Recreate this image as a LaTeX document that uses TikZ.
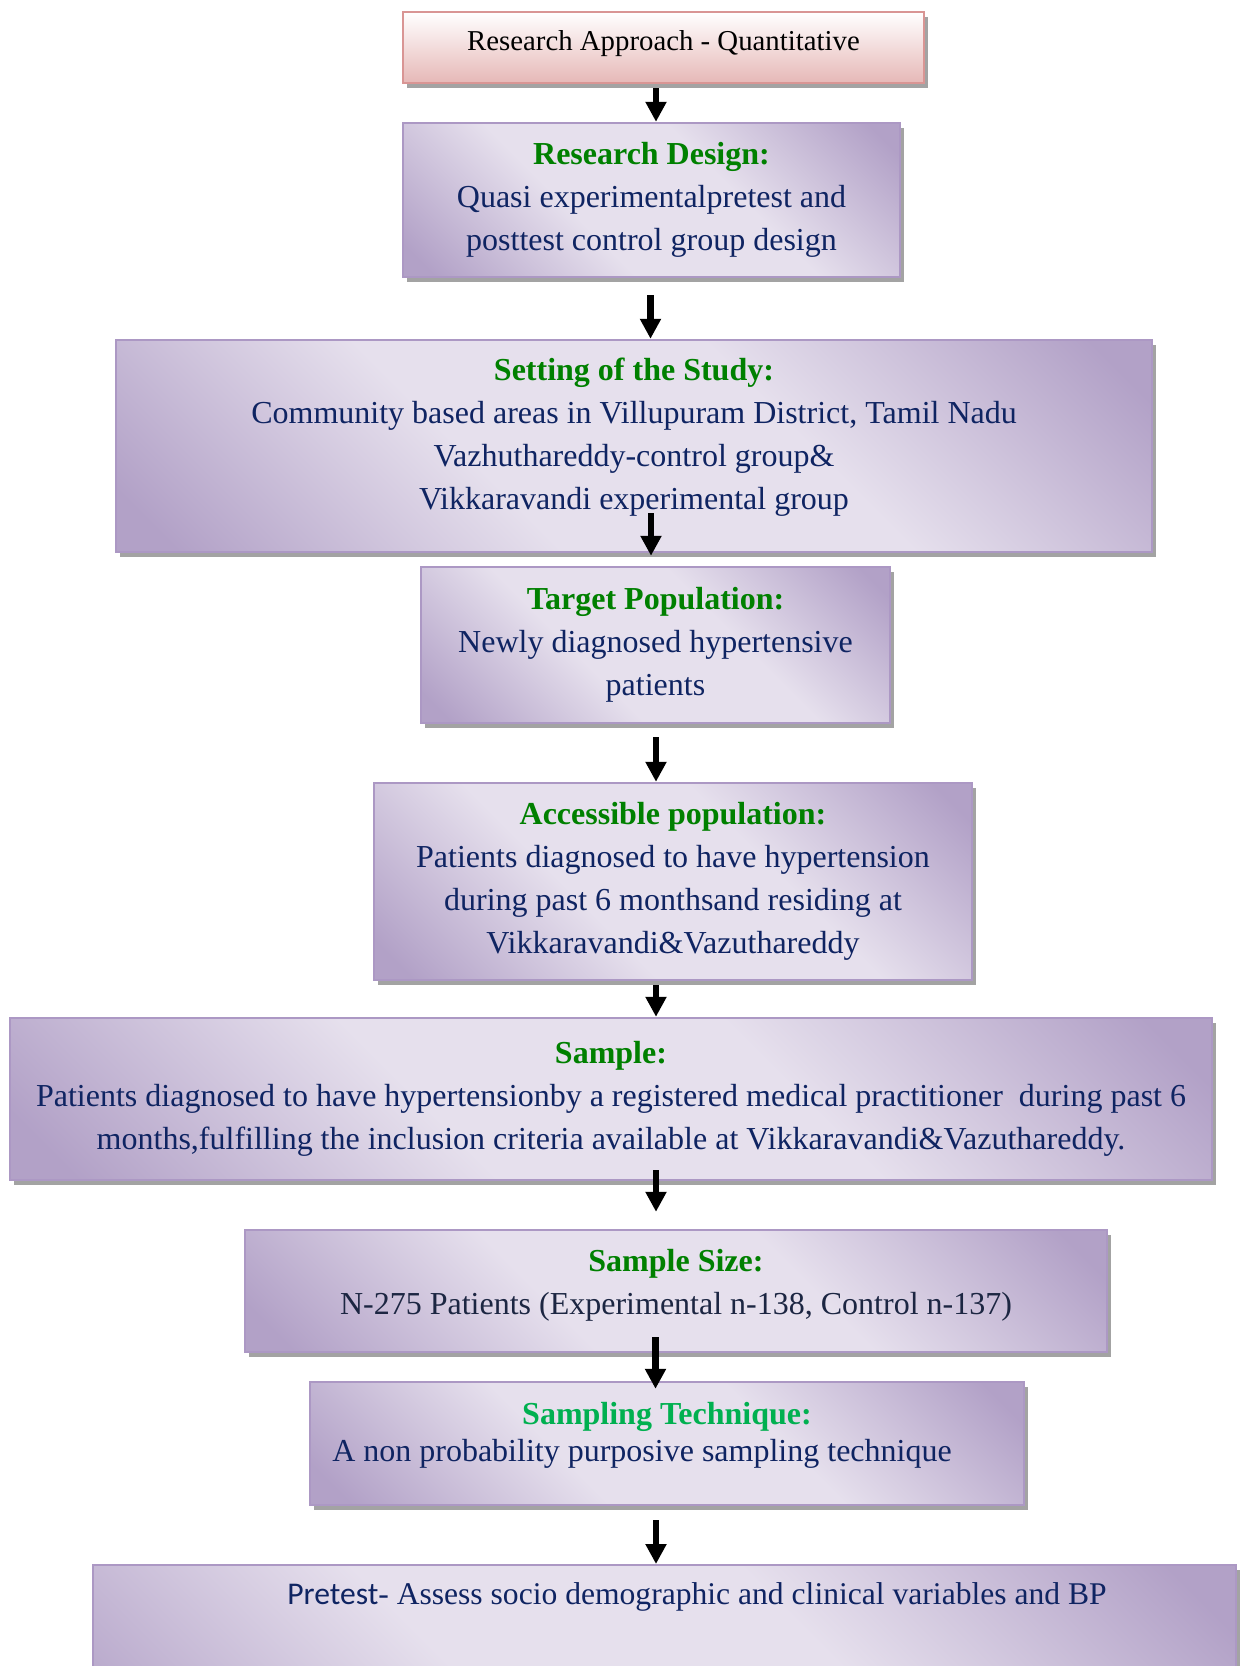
\documentclass[tikz,border=0pt]{standalone}
\usepackage{fontspec}
\setmainfont{Liberation Serif}
\newfontfamily\calibfont{Carlito}
\usetikzlibrary{arrows.meta,shadows}
\definecolor{boxdark}{RGB}{178,161,199}
\definecolor{boxlight}{RGB}{230,224,237}
\definecolor{boxline}{RGB}{172,152,196}
\definecolor{pinkline}{RGB}{217,149,148}
\definecolor{pinkfill}{RGB}{230,184,183}
\definecolor{headgreen}{RGB}{0,128,0}
\definecolor{lightgreen}{RGB}{0,176,80}
\definecolor{navy}{RGB}{15,36,98}
\definecolor{slate}{RGB}{28,38,66}
\pgfdeclareverticalshading{purplediag}{100bp}{color(0bp)=(boxdark); color(18bp)=(boxdark);
  color(40bp)=(boxlight); color(60bp)=(boxlight); color(82bp)=(boxdark); color(100bp)=(boxdark)}
\newcommand{\head}[1]{\textcolor{headgreen}{\textbf{#1}}}

\begin{document}
\begin{tikzpicture}[x=0.5pt,y=-0.5pt,
  every node/.style={font=\fontsize{16}{21.5}\selectfont, text=navy},
  flowbox/.style={draw=boxline, line width=1.2pt, inner sep=2pt,
    shading=purplediag, shading angle=-45,
    drop shadow={shadow xshift=2pt, shadow yshift=-2.5pt, fill=black!45, opacity=0.8}},
  pbox/.style={flowbox, align=center},
  topbox/.style={draw=pinkline, line width=1.2pt, top color=white, bottom color=pinkfill,
    drop shadow={shadow xshift=2pt, shadow yshift=-2.5pt, fill=black!45, opacity=0.8},
    font=\fontsize{14.4}{17}\selectfont, text=black},
  arr/.style={line width=3.25pt, -{Triangle[width=10pt,length=10pt]}}]
\useasboundingbox (0,0) rectangle (1243,1666);

\node[topbox, minimum width=260.5pt, minimum height=35.5pt, text height=10pt, text depth=7pt]
  (approach) at (663.5,47.5) {Research Approach - Quantitative};
\node[pbox, minimum width=248.5pt, minimum height=77pt] (design) at (651.5,200)
  {\head{Research Design:}\\ Quasi experimentalpretest and\\ posttest control group design};
\node[pbox, minimum width=518pt, minimum height=106pt] (setting) at (634,446)
  {\head{Setting of the Study:}\\ Community based areas in Villupuram District, Tamil Nadu\\
   Vazhuthareddy-control group\&\\ Vikkaravandi experimental group\\[-9.5pt]\mbox{}};
\node[pbox, minimum width=234.5pt, minimum height=78pt] (target) at (655.5,645)
  {\head{Target Population:}\\ Newly diagnosed hypertensive\\ patients};
\node[pbox, minimum width=299pt, minimum height=98.5pt] (access) at (673,881.5)
  {\head{Accessible population:}\\ Patients diagnosed to have hypertension\\
   during past 6 monthsand residing at\\ Vikkaravandi\&Vazuthareddy};
\node[pbox, minimum width=601pt, minimum height=81pt] (sample) at (611,1099)
  {\head{Sample:}\\ Patients diagnosed to have hypertensionby a registered medical practitioner\ \ during past 6\\
   months,fulfilling the inclusion criteria available at Vikkaravandi\&Vazuthareddy.};
\node[pbox, minimum width=431pt, minimum height=61pt, text=slate] (size) at (676,1291)
  {\head{Sample Size:}\\ N-275 Patients (Experimental n-138, Control n-137)\\[-12.7pt]\mbox{}};
\node[pbox, minimum width=357pt, minimum height=61.5pt] (technique) at (667,1443.5)
  {\textcolor{lightgreen}{\textbf{Sampling Technique:}}\\[-3pt]
   \mbox{A non probability purposive sampling technique\hspace{25pt}}\\[-10pt]\mbox{}};
\node[flowbox, anchor=north, minimum width=571.5pt, inner ysep=0pt, text height=19.5pt,
  text depth=100pt, font=\fontsize{15.8}{19}\selectfont] (pretest) at (664.5,1564)
  {\hspace*{32.5pt}{\calibfont Pretest}- Assess socio demographic and clinical variables and BP};

%\draw[help lines] (0,0) grid (1243,1666);
\draw[arr] ([xshift=-3.75pt,yshift=-2pt]approach.south) -- ([xshift=2.25pt]design.north);
\draw[arr] ([xshift=-0.5pt,yshift=-8.5pt]design.south) -- ([xshift=8.25pt]setting.north);
\draw[arr, shorten >=5pt] ([xshift=8.5pt,yshift=20pt]setting.south) -- ([xshift=-2.25pt]target.north);
\draw[arr] ([xshift=0.25pt,yshift=-6.5pt]target.south) -- ([xshift=-8.5pt]access.north);
\draw[arr] ([xshift=-8.5pt,yshift=-2pt]access.south) -- ([xshift=22.5pt]sample.north);
\draw[arr, shorten >=8.5pt] ([xshift=22.5pt,yshift=5.5pt]sample.south) -- ([xshift=-10pt]size.north);
\draw[arr, shorten >=-4pt] ([xshift=-10.25pt,yshift=8pt]size.south) -- ([xshift=-5.75pt]technique.north);
\draw[arr] ([xshift=-5.5pt,yshift=-7pt]technique.south) -- ([xshift=-4.25pt]pretest.north);
\end{tikzpicture}
\end{document}
